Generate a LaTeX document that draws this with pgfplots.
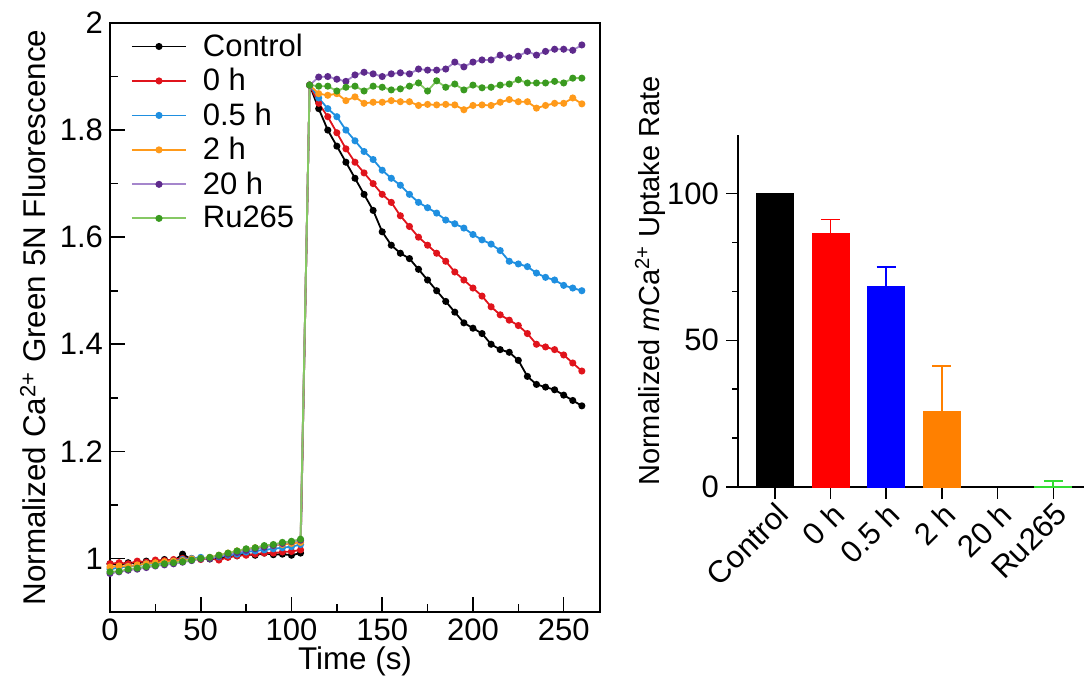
\documentclass[border=0pt]{standalone}
\usepackage{fontspec}
\setmainfont{Liberation Sans}
\usepackage{pgfplots}
\usepackage{pgfplotstable}
\pgfplotsset{compat=1.18}

\definecolor{cred}{HTML}{E0141C}
\definecolor{cblue}{HTML}{1F8FE0}
\definecolor{corange}{HTML}{FF9A1A}
\definecolor{cpurpleL}{HTML}{A586CC}
\definecolor{cpurple}{HTML}{5E2A8C}
\definecolor{cgreenL}{HTML}{86C864}
\definecolor{cgreen}{HTML}{3A9A20}
\definecolor{bred}{HTML}{FF0000}
\definecolor{bblue}{HTML}{0000FF}
\definecolor{borange}{HTML}{FF8000}
\definecolor{bgreen}{HTML}{33DD33}

% time course, columns: t, control, 0 h, 0.5 h, 2 h, 20 h, Ru265
\pgfplotstableread{
t   ctrl   h0     h05    h2     h20    ru
0   0.990  0.990  0.980  0.984  0.972  0.975
5   0.988  0.992  0.983  0.986  0.975  0.976
10  0.992  0.990  0.985  0.985  0.978  0.980
15  0.990  0.995  0.987  0.988  0.980  0.982
20  0.995  0.993  0.990  0.990  0.983  0.985
25  0.993  0.997  0.990  0.992  0.986  0.987
30  0.998  0.996  0.992  0.994  0.988  0.990
35  0.995  0.998  0.995  0.995  0.990  0.992
40  1.008  1.000  0.998  0.996  0.993  0.994
45  0.998  1.000  1.000  0.999  0.996  0.997
50  1.000  0.998  1.002  1.000  0.999  1.000
55  0.999  1.000  1.000  1.002  1.000  1.002
60  1.000  0.997  1.003  1.006  1.004  1.006
65  1.003  1.002  1.006  1.010  1.008  1.010
70  1.005  1.005  1.008  1.014  1.011  1.014
75  1.008  1.006  1.012  1.017  1.015  1.018
80  1.006  1.008  1.014  1.020  1.018  1.020
85  1.010  1.010  1.016  1.022  1.021  1.024
90  1.007  1.010  1.018  1.024  1.024  1.026
95  1.008  1.012  1.020  1.026  1.028  1.030
100 1.006  1.013  1.022  1.028  1.031  1.032
105 1.010  1.016  1.026  1.030  1.034  1.036
110 1.884  1.884  1.884  1.884  1.884  1.884
115 1.840  1.850  1.860  1.868  1.899  1.882
120 1.800  1.825  1.840  1.865  1.900  1.882
125 1.770  1.795  1.825  1.868  1.895  1.873
130 1.740  1.765  1.800  1.855  1.891  1.880
135 1.710  1.740  1.780  1.862  1.903  1.882
140 1.680  1.720  1.760  1.850  1.908  1.873
145 1.650  1.700  1.745  1.852  1.905  1.882
150 1.610  1.680  1.725  1.852  1.900  1.880
155 1.585  1.665  1.710  1.855  1.905  1.875
160 1.570  1.640  1.697  1.853  1.907  1.877
165 1.560  1.620  1.680  1.853  1.905  1.882
170 1.540  1.600  1.665  1.846  1.914  1.888
175 1.520  1.585  1.655  1.848  1.912  1.873
180 1.500  1.570  1.645  1.847  1.912  1.892
185 1.480  1.555  1.632  1.848  1.914  1.880
190 1.460  1.535  1.625  1.847  1.927  1.886
195 1.440  1.520  1.617  1.838  1.918  1.875
200 1.430  1.505  1.605  1.846  1.927  1.884
205 1.420  1.490  1.595  1.847  1.931  1.879
210 1.400  1.470  1.587  1.846  1.931  1.880
215 1.390  1.455  1.575  1.852  1.940  1.884
220 1.385  1.445  1.555  1.857  1.935  1.886
225 1.370  1.435  1.550  1.853  1.938  1.894
230 1.340  1.420  1.545  1.853  1.947  1.888
235 1.325  1.400  1.533  1.841  1.940  1.888
240 1.320  1.395  1.525  1.846  1.947  1.888
245 1.315  1.390  1.520  1.850  1.951  1.891
250 1.305  1.380  1.510  1.850  1.951  1.888
255 1.295  1.365  1.505  1.860  1.949  1.897
260 1.285  1.350  1.500  1.849  1.959  1.897
}\timecourse

\pgfplotsset{
  /pgf/number format/assume math mode=true,
  every axis/.append style={
    tick label style={font=\fontsize{15.5}{17}\selectfont},
    label style={font=\fontsize{15.7}{18}\selectfont},
    axis line style={line width=0.8pt},
    every tick/.style={black, line width=0.8pt},
  },
  trace/.style={line width=0.9pt, mark=*, mark size=1.3pt},
}

\begin{document}
\begin{tikzpicture}[font=\fontsize{15.5}{18}\selectfont]

\begin{axis}[
    at={(0,0)}, anchor=south west,
    width=245pt, height=294.5pt, scale only axis,
    xmin=0, xmax=270, ymin=0.9, ymax=2,
    xtick={0,50,...,250}, minor x tick num=1,
    ytick={1,1.2,1.4,1.6,1.8,2}, minor y tick num=1,
    xtick pos=left, ytick pos=left, tick align=inside,
    major tick length=7.5pt, minor tick length=4pt,
    xlabel={Time (s)},
    xlabel style={yshift=4pt},
    ylabel={Normalized Ca\textsuperscript{2+} Green 5N Fluorescence},
    legend style={at={(0.03,0.996)}, anchor=north west, draw=none, fill=none,
      font=\fontsize{15.5}{18}\selectfont, row sep=0.5pt,
      /tikz/every odd column/.append style={column sep=6pt}},
    legend cell align=left,
    legend image code/.code={
      \draw[mark repeat=2, mark phase=2, #1] plot coordinates {(0pt,0pt) (13.5pt,0pt) (27pt,0pt)};},
  ]
\addplot[trace, color=black] table[x=t, y=ctrl] {\timecourse};
\addplot[trace, color=cred] table[x=t, y=h0] {\timecourse};
\addplot[trace, color=cblue] table[x=t, y=h05] {\timecourse};
\addplot[trace, color=corange] table[x=t, y=h2] {\timecourse};
\addplot[trace, color=cpurpleL, mark options={fill=cpurple, draw=cpurple}] table[x=t, y=h20] {\timecourse};
\addplot[trace, color=cgreenL, mark options={fill=cgreen, draw=cgreen}] table[x=t, y=ru] {\timecourse};
\legend{Control, 0 h, 0.5 h, 2 h, 20 h, Ru265}
\end{axis}

\begin{axis}[
    at={(314pt,62.5pt)}, anchor=south west,
    width=173pt, height=176pt, scale only axis,
    xmin=-0.66, xmax=5.55, ymin=0, ymax=120,
    axis x line*=bottom, axis y line*=left,
    axis line style={-},
    tick align=outside,
    major tick length=6pt, minor tick length=3pt,
    xtick={0,1,2,3,4,5},
    xticklabels={Control, 0 h, 0.5 h, 2 h, 20 h, Ru265},
    x tick label style={rotate=45, anchor=north east, inner sep=0.5pt},
    ytick={0,50,100}, minor y tick num=2,
    ylabel={Normalized \textit{m}Ca\textsuperscript{2+} Uptake Rate},
    ylabel style={at={(ticklabel cs:0.585)}, font=\fontsize{14.5}{17}\selectfont, yshift=-6pt},
    clip=false,
  ]
\addplot[ybar, bar width=18.5pt, bar shift=0pt, fill=black, draw=black]
  coordinates {(0,100)};
\addplot[ybar, bar width=18.5pt, bar shift=0pt, fill=bred, draw=bred,
  error bars/.cd, y dir=plus, y explicit,
  error bar style={bred, line width=0.9pt},
  error mark options={bred, rotate=90, mark size=4.75pt, line width=0.9pt}]
  coordinates {(1,86.4) +- (0,4.8)};
\addplot[ybar, bar width=18.5pt, bar shift=0pt, fill=bblue, draw=bblue,
  error bars/.cd, y dir=plus, y explicit,
  error bar style={bblue, line width=0.9pt},
  error mark options={bblue, rotate=90, mark size=4.75pt, line width=0.9pt}]
  coordinates {(2,68.5) +- (0,6.4)};
\addplot[ybar, bar width=18.5pt, bar shift=0pt, fill=borange, draw=borange,
  error bars/.cd, y dir=plus, y explicit,
  error bar style={borange, line width=0.9pt},
  error mark options={borange, rotate=90, mark size=4.75pt, line width=0.9pt}]
  coordinates {(3,25.9) +- (0,15.4)};
\addplot[ybar, bar width=18.5pt, bar shift=0pt, fill=bgreen, draw=bgreen,
  error bars/.cd, y dir=plus, y explicit,
  error bar style={bgreen, line width=0.9pt},
  error mark options={bgreen, rotate=90, mark size=4.75pt, line width=0.9pt}]
  coordinates {(5,0.2) +- (0,1.8)};
\end{axis}

\pgfresetboundingbox
\useasboundingbox (-55pt,-33.5pt) rectangle (487pt,306pt);
\end{tikzpicture}
\end{document}
